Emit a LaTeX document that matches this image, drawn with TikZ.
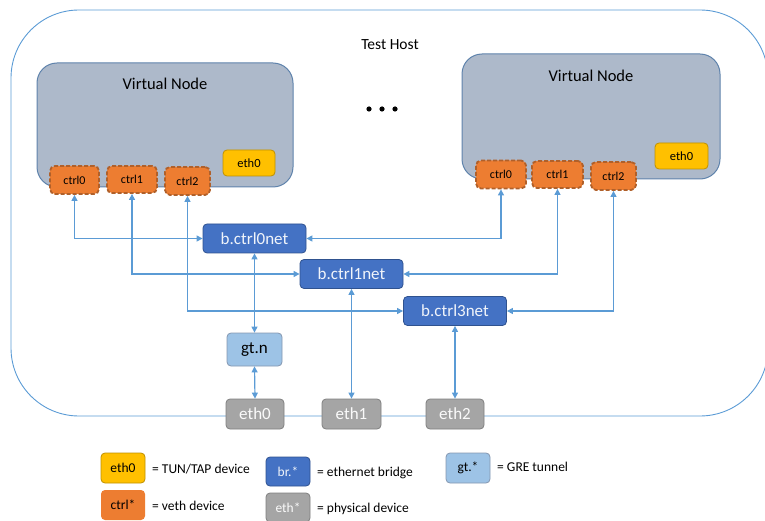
\documentclass[tikz,border=0pt]{standalone}
\usepackage{fontspec}
\setmainfont{Carlito}
\usetikzlibrary{arrows.meta}
\definecolor{hostline}{HTML}{5B9BD5}
\definecolor{vnfill}{HTML}{ADB9CA}
\definecolor{vnline}{HTML}{5F83AC}
\definecolor{ctrlfill}{HTML}{ED7D31}
\definecolor{ctrlline}{HTML}{B0602A}
\definecolor{tapfill}{HTML}{FFC000}
\definecolor{tapline}{HTML}{BF9000}
\definecolor{brfill}{HTML}{4472C4}
\definecolor{brline}{HTML}{2F528F}
\definecolor{gtfill}{HTML}{9DC3E6}
\definecolor{gtline}{HTML}{8497B0}
\definecolor{physfill}{HTML}{A5A5A5}
\definecolor{physline}{HTML}{7F7F7F}
\definecolor{conn}{HTML}{5B9BD5}
\begin{document}
\begin{tikzpicture}[x=1pt,y=-1pt,
  vnode/.style={draw=vnline,fill=vnfill,line width=1pt,rounded corners=20pt,inner sep=0pt},
  ctrlbox/.style={draw=ctrlline,fill=ctrlfill,line width=1.8pt,dash pattern=on 4pt off 2pt,rounded corners=5pt,inner sep=0pt,font=\fontsize{12}{14}\selectfont,text=black},
  tapbox/.style={draw=tapline,fill=tapfill,line width=0.8pt,rounded corners=4pt,inner sep=0pt,font=\fontsize{12.5}{14}\selectfont,text=black},
  brbox/.style={draw=brline,fill=brfill,line width=0.8pt,rounded corners=4pt,inner sep=0pt,minimum width=103pt,minimum height=29pt,font=\fontsize{17}{19}\selectfont,text=white!92!brfill},
  gtbox/.style={draw=gtline,fill=gtfill,line width=0.8pt,rounded corners=4pt,inner sep=0pt,font=\fontsize{17}{19}\selectfont,text=black},
  physbox/.style={draw=physline,fill=physfill,line width=0.8pt,rounded corners=4pt,inner sep=0pt,minimum width=58pt,minimum height=30pt,font=\fontsize{17}{19}\selectfont,text=white!95!physfill},
  legtext/.style={anchor=west,inner sep=0pt,font=\fontsize{13.5}{15}\selectfont},
  link/.style={draw=conn,line width=1.2pt,{Triangle[length=6pt,width=6pt]}-{Triangle[length=6pt,width=6pt]}}
]
\useasboundingbox (0,0) rectangle (765,521);

% host
\draw[hostline,line width=0.9pt,rounded corners=68pt] (11,10) rectangle (768,416);
\node[inner sep=0pt,font=\fontsize{15.5}{17}\selectfont] (host) at (390,45) {Test Host};

% dots
\fill (369,109) circle (2.6pt);
\fill (382,109) circle (2.6pt);
\fill (395,109) circle (2.6pt);

% virtual nodes
\node[vnode,minimum width=256pt,minimum height=124pt] (vnl) at (165,125) {};
\node[inner sep=0pt,font=\fontsize{16.5}{18}\selectfont] (vnlt) at (165,84) {Virtual Node};
\node[vnode,minimum width=258pt,minimum height=125pt] (vnr) at (591,116.5) {};
\node[inner sep=0pt,font=\fontsize{16.5}{18}\selectfont] (vnrt) at (591,76) {Virtual Node};

\node[ctrlbox,minimum width=49pt,minimum height=28pt] (lc0) at (74.5,180) {ctrl0};
\node[ctrlbox,minimum width=50pt,minimum height=27pt] (lc1) at (132,179.5) {ctrl1};
\node[ctrlbox,minimum width=45pt,minimum height=28pt] (lc2) at (187.5,181) {ctrl2};
\node[tapbox,minimum width=52pt,minimum height=26pt] (le0) at (249,163) {eth0};

\node[ctrlbox,minimum width=50pt,minimum height=28pt] (rc0) at (501,174.5) {ctrl0};
\node[ctrlbox,minimum width=51pt,minimum height=27pt] (rc1) at (557.5,174.5) {ctrl1};
\node[ctrlbox,minimum width=45pt,minimum height=28pt] (rc2) at (613.5,176) {ctrl2};
\node[tapbox,minimum width=53pt,minimum height=26pt] (re0) at (681.5,156) {eth0};

% bridges
\node[brbox] (b0) at (254.5,238.5) {b.ctrl0net};
\node[brbox] (b1) at (351.5,274) {b.ctrl1net};
\node[brbox] (b3) at (455,311) {b.ctrl3net};

\node[gtbox,minimum width=55pt,minimum height=33pt] (gt) at (254.5,349.5) {gt.n};

\node[physbox] (p0) at (255,414) {eth0};
\node[physbox,minimum width=59pt] (p1) at (351.5,414) {eth1};
\node[physbox] (p2) at (455,414) {eth2};

% connectors
\draw[link] (lc0.south) |- (b0.west);
\draw[link] (rc0.south) |- (b0.east);
\draw[link] (lc1.south) |- (b1.west);
\draw[link] (rc1.south) |- (b1.east);
\draw[link] (lc2.south) |- (b3.west);
\draw[link] (rc2.south) |- (b3.east);
\draw[link] (b0.south) -- (gt.north);
\draw[link] (gt.south) -- (p0.north);
\draw[link] (b1.south -| p1.north) -- (p1.north);
\draw[link] (b3.south) -- (p2.north);

% legend
\node[tapbox,minimum width=44pt,minimum height=30pt,font=\fontsize{13.5}{15}\selectfont] (lg1) at (123,468) {eth0};
\node[legtext] (lg1t) at (152,469) {= TUN/TAP device};
\node[ctrlbox,draw=none,line width=0pt,rounded corners=4pt,minimum width=44pt,minimum height=30pt,font=\fontsize{13.5}{15}\selectfont] (lg2) at (123,505) {ctrl*};
\node[legtext] (lg2t) at (152,506) {= veth device};
\node[brbox,minimum width=44pt,minimum height=29pt,font=\fontsize{13.5}{15}\selectfont] (lg3) at (288,471.5) {br.*};
\node[legtext] (lg3t) at (317,473) {= ethernet bridge};
\node[physbox,minimum width=44pt,minimum height=29pt,font=\fontsize{13.5}{15}\selectfont] (lg4) at (288,507.5) {eth*};
\node[legtext] (lg4t) at (317,509) {= physical device};
\node[gtbox,minimum width=44pt,minimum height=30pt,font=\fontsize{13.5}{15}\selectfont] (lg5) at (468,468) {gt.*};
\node[legtext] (lg5t) at (497,467) {= GRE tunnel};
\end{tikzpicture}
\end{document}
